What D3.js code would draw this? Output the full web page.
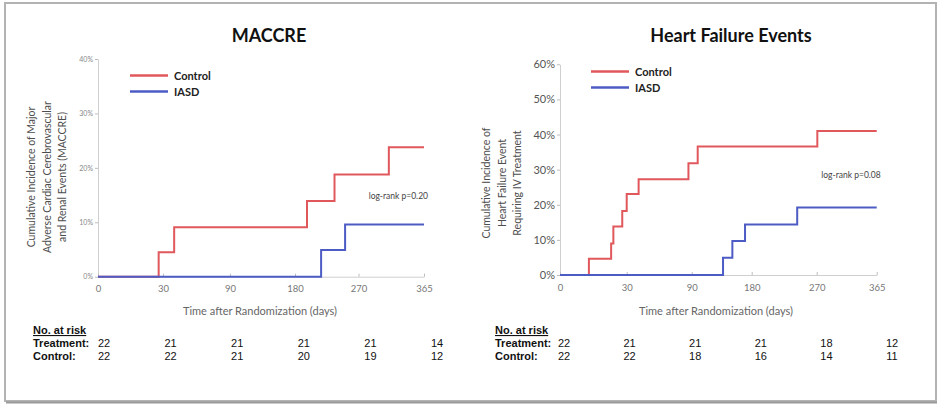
<!DOCTYPE html>
<html>
<head>
<meta charset="utf-8">
<script src="https://cdn.jsdelivr.net/npm/d3@7"></script>
<style>
  body { margin: 0; background: #fff; }
  svg { display: block; }
</style>
</head>
<body>
<svg id="chart" width="939" height="407"></svg>
<script>
// shared x ticks (days), axis is piecewise: each tick interval gets equal width
const xTickDays = [0, 30, 90, 180, 270, 365];
const seriesNames = ["Control", "IASD"];
const riskRowLabels = ["Treatment:", "Control:"];

// MACCRE panel
const maccreControlDays = [0, 28, 40, 197, 236, 314, 365];
const maccreControlPct = [0, 4.5, 9.1, 13.9, 18.8, 23.8, 23.8];
const maccreIasdDays = [0, 217, 251, 365];
const maccreIasdPct = [0, 4.9, 9.6, 9.6];
const maccreYTicks = [0, 10, 20, 30, 40];
const maccreRiskTreatment = [22, 21, 21, 21, 21, 14];
const maccreRiskControl = [22, 22, 21, 20, 19, 12];

// Heart failure panel
const hfControlDays = [0, 13, 23, 24, 28, 30, 41, 87, 99, 271, 365];
const hfControlPct = [0, 4.6, 9.0, 13.8, 18.2, 23.1, 27.3, 31.8, 36.6, 41.0, 41.0];
const hfIasdDays = [0, 137, 151, 170, 243, 365];
const hfIasdPct = [0, 4.9, 9.7, 14.4, 19.2, 19.2];
const hfYTicks = [0, 10, 20, 30, 40, 50, 60];
const hfRiskTreatment = [22, 21, 21, 21, 18, 12];
const hfRiskControl = [22, 22, 18, 16, 14, 11];

const RED = "#e0585c";
const BLUE = "#4c5cc4";
const calibri = "Lato, 'Open Sans', sans-serif";
const arial = "'Liberation Sans', Arial, sans-serif";

const svg = d3.select("#chart");

// outer frame
svg.append("rect")
  .attr("x", 5).attr("y", 3).attr("width", 931).attr("height", 398)
  .attr("fill", "none").attr("stroke", "#b3b3b3").attr("stroke-width", 2);
svg.append("line")
  .attr("x1", 6).attr("x2", 937).attr("y1", 402.5).attr("y2", 402.5)
  .attr("stroke", "#9a9a9a").attr("stroke-width", 2);

const zip = (days, pct) => days.map((d, i) => ({ day: d, pct: pct[i] }));

function drawPanel(cfg) {
  const g = svg.append("g");
  const x = d3.scaleLinear().domain(xTickDays).range(cfg.xRange);
  const y = d3.scaleLinear().domain([0, cfg.yMax]).range([cfg.y0, cfg.yTop]);

  // y axis
  const ya = g.append("g")
    .attr("transform", `translate(${cfg.xRange[0]},0)`)
    .call(d3.axisLeft(y).tickValues(cfg.yTicks).tickFormat((d) => d + "%")
      .tickSizeInner(3).tickSizeOuter(0).tickPadding(2));
  ya.select(".domain").attr("stroke", "#cfcfcf");
  ya.selectAll(".tick line").attr("stroke", "#bdbdbd");
  ya.selectAll("text")
    .style("font-family", cfg.yTickFont)
    .style("font-size", cfg.yTickSize + "px")
    .attr("fill", cfg.yTickColor);

  // x axis
  const xa = g.append("g")
    .attr("transform", `translate(0,${cfg.y0})`)
    .call(d3.axisBottom(x).tickValues(xTickDays).tickFormat(d3.format("d"))
      .tickSizeInner(-3).tickSizeOuter(0).tickPadding(9));
  xa.select(".domain").attr("stroke", "#cfcfcf");
  xa.selectAll(".tick line").attr("stroke", "#bdbdbd");
  xa.selectAll("text")
    .style("font-family", calibri)
    .style("font-size", "9.5px")
    .attr("fill", "#777");

  // curves
  const line = d3.line()
    .x((d) => x(d.day))
    .y((d) => y(d.pct))
    .curve(d3.curveStepAfter);
  [cfg.control, cfg.iasd].forEach((s, i) => {
    g.append("path")
      .datum(s)
      .attr("d", line)
      .attr("fill", "none")
      .attr("stroke", i === 0 ? RED : BLUE)
      .attr("stroke-width", 2);
  });

  // title
  g.append("text")
    .attr("x", cfg.titleX).attr("y", 42)
    .attr("text-anchor", "middle")
    .style("font-family", calibri)
    .style("font-weight", "bold")
    .style("font-size", "18px")
    .attr("fill", "#111")
    .text(cfg.title);

  // legend
  seriesNames.forEach((name, i) => {
    const ly = cfg.legendY + i * 16;
    g.append("line")
      .attr("x1", cfg.legendX).attr("x2", cfg.legendX + 38)
      .attr("y1", ly).attr("y2", ly)
      .attr("stroke", i === 0 ? RED : BLUE).attr("stroke-width", 2.5);
    g.append("text")
      .attr("x", cfg.legendX + 44).attr("y", ly + 4)
      .style("font-family", calibri)
      .style("font-weight", "bold")
      .style("font-size", "11px")
      .attr("fill", "#222")
      .text(name);
  });

  // log-rank note
  g.append("text")
    .attr("x", cfg.xRange[cfg.xRange.length - 1] + 4).attr("y", cfg.pY)
    .attr("text-anchor", "end")
    .style("font-family", calibri)
    .style("font-size", "8.5px")
    .attr("fill", "#444")
    .text(cfg.pText);

  // x axis title
  g.append("text")
    .attr("x", cfg.xTitleX).attr("y", 315)
    .attr("text-anchor", "middle")
    .style("font-family", calibri)
    .style("font-size", "11px")
    .attr("fill", "#666")
    .text("Time after Randomization (days)");

  // y axis title (rotated, multi line)
  const yt = g.append("text")
    .attr("transform", `translate(${cfg.yTitleX},${cfg.yTitleY}) rotate(-90)`)
    .attr("text-anchor", "middle")
    .style("font-family", calibri)
    .style("font-size", "10.5px")
    .attr("fill", "#4d4d4d");
  cfg.yTitle.forEach((t, i) => {
    yt.append("tspan").attr("x", 0).attr("dy", i === 0 ? 0 : 15.5).text(t);
  });

  // number at risk table
  const col = d3.scalePoint().domain(xTickDays).range(cfg.riskRange);
  g.append("text")
    .attr("x", cfg.riskLabelX).attr("y", 334)
    .style("font-family", arial).style("font-weight", "bold")
    .style("font-size", "11px").style("text-decoration", "underline")
    .attr("fill", "#111")
    .text("No. at risk");
  [cfg.riskTreatment, cfg.riskControl].forEach((row, r) => {
    const ry = 347 + r * 12.5;
    g.append("text")
      .attr("x", cfg.riskLabelX).attr("y", ry)
      .style("font-family", arial).style("font-weight", "bold")
      .style("font-size", "11px").attr("fill", "#111")
      .text(riskRowLabels[r]);
    g.selectAll(null)
      .data(row)
      .join("text")
      .attr("x", (d, i) => col(xTickDays[i]))
      .attr("y", ry)
      .attr("text-anchor", "middle")
      .style("font-family", arial)
      .style("font-size", "11px")
      .attr("fill", "#111")
      .text((d) => d);
  });
}

drawPanel({
  title: "MACCRE", titleX: 269,
  xRange: [98, 163, 230, 295, 358.5, 424],
  yMax: 40, y0: 276.7, yTop: 59, yTicks: maccreYTicks,
  yTickSize: 7, yTickFont: calibri, yTickColor: "#888",
  control: zip(maccreControlDays, maccreControlPct),
  iasd: zip(maccreIasdDays, maccreIasdPct),
  legendX: 130, legendY: 75.5,
  pText: "log-rank p=0.20", pY: 199,
  xTitleX: 260,
  yTitle: ["Cumulative Incidence of Major", "Adverse Cardiac Cerebrovascular", "and Renal Events (MACCRE)"],
  yTitleX: 35, yTitleY: 177,
  riskLabelX: 33, riskRange: [104, 437],
  riskTreatment: maccreRiskTreatment, riskControl: maccreRiskControl,
});

drawPanel({
  title: "Heart Failure Events", titleX: 731,
  xRange: [560, 626.7, 691.7, 751.7, 816.7, 876.7],
  yMax: 60, y0: 275, yTop: 64.3, yTicks: hfYTicks,
  yTickSize: 11, yTickFont: calibri, yTickColor: "#555",
  control: zip(hfControlDays, hfControlPct),
  iasd: zip(hfIasdDays, hfIasdPct),
  legendX: 591, legendY: 71.5,
  pText: "log-rank p=0.08", pY: 177.5,
  xTitleX: 716,
  yTitle: ["Cumulative Incidence of", "Heart Failure Event", "Requiring IV Treatment"],
  yTitleX: 490, yTitleY: 183,
  riskLabelX: 495, riskRange: [564, 892],
  riskTreatment: hfRiskTreatment, riskControl: hfRiskControl,
});
</script>
</body>
</html>
